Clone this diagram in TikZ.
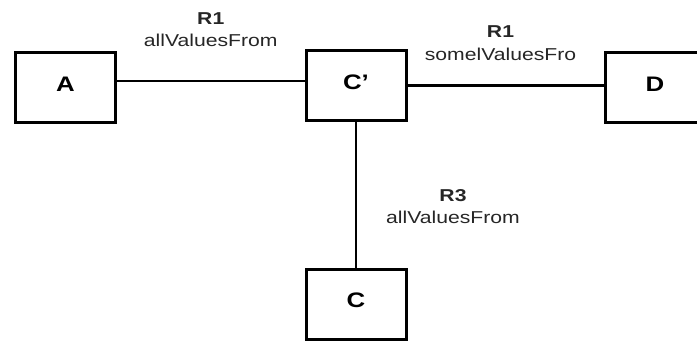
\documentclass[tikz,border=0pt]{standalone}
\usepackage{fontspec}
\setmainfont{Liberation Sans}[FakeStretch=1.23]
\usepackage{tikz}

\tikzset{
	box/.style={draw, line width=1.5pt, minimum width=50pt, minimum height=35pt, inner sep=0pt,
		font=\fontsize{10.5}{12}\selectfont\bfseries, text height=7.6pt, text depth=4pt},
	link/.style={line width=1.2pt},
	rel/.style={inner sep=0pt, align=center, font=\fontsize{8.6}{11.2}\selectfont, text=black!85}
}

\begin{document}
\begin{tikzpicture}[x=0.5pt, y=-0.5pt]
	\useasboundingbox (0,0) rectangle (697,343);
	\clip (0,0) rectangle (697,343);
	\node (A) at (65.5,87.5) [box] {A};
	\node (Cp) at (356,85.5) [box] {C’};
	\node (D) at (655,87.5) [box] {D};
		\node (C) at (356,304) [box] {C};
	\draw[link] ([yshift=3.25pt]A.east) to node [rel, above=16.5pt] {\textbf{R1}\\allValuesFrom} ([yshift=3.25pt]A.east -| Cp.west);
	\draw[link] (Cp.east) to node [rel, above=12pt, xshift=-2.5pt] {\textbf{R1}\\somelValuesFro} (Cp.east -| D.west);
	\draw[link] (Cp.south) to node [rel, right=14.5pt, yshift=-6pt] {\textbf{R3}\\allValuesFrom} (C.north);
\end{tikzpicture}
\end{document}
